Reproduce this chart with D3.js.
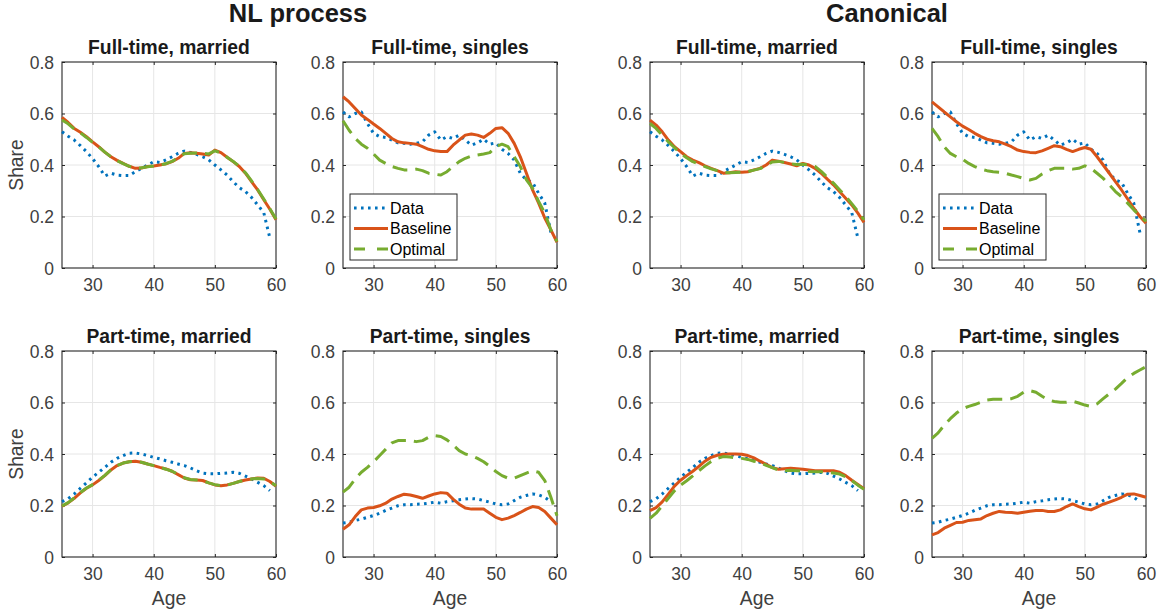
<!DOCTYPE html>
<html><head><meta charset="utf-8">
<script src="https://cdn.jsdelivr.net/npm/d3@7"></script>
<style>body{margin:0;background:#fff;} svg{display:block;font-family:"Liberation Sans",Arial,Helvetica,sans-serif;}</style>
</head><body>
<svg id="chart" width="1162" height="615"></svg>
<script>
// ---------- data ----------
const modelAges = d3.range(25, 61);   // 25..60
const dataAges  = d3.range(25, 60);   // 25..59
const yTicks = [0, 0.2, 0.4, 0.6, 0.8];
const xTicks = [30, 40, 50, 60];
const groupTitles = ["NL process", "Canonical"];
const panelTitles = ["Full-time, married", "Full-time, singles", "Part-time, married", "Part-time, singles"];
const seriesNames = ["Data", "Baseline", "Optimal"];

const dataFTmarried = [0.529,0.512,0.497,0.475,0.452,0.425,0.394,0.357,0.368,0.361,0.359,0.359,0.374,0.387,0.400,0.413,0.410,0.420,0.432,0.445,0.454,0.449,0.441,0.432,0.420,0.400,0.381,0.361,0.335,0.312,0.297,0.274,0.245,0.215,0.116];
const dataFTsingles = [0.606,0.587,0.600,0.606,0.561,0.523,0.510,0.507,0.497,0.486,0.484,0.481,0.484,0.490,0.516,0.529,0.497,0.510,0.503,0.516,0.497,0.477,0.486,0.500,0.481,0.486,0.461,0.445,0.419,0.368,0.342,0.332,0.290,0.252,0.138];
const dataPTmarried = [0.215,0.226,0.245,0.267,0.288,0.310,0.329,0.348,0.368,0.383,0.394,0.403,0.404,0.400,0.394,0.387,0.381,0.374,0.368,0.361,0.355,0.346,0.335,0.326,0.323,0.323,0.325,0.326,0.329,0.325,0.314,0.303,0.290,0.277,0.258];
const dataPTsingles = [0.132,0.135,0.142,0.147,0.154,0.161,0.170,0.181,0.190,0.199,0.203,0.203,0.205,0.206,0.209,0.213,0.209,0.215,0.218,0.222,0.225,0.227,0.225,0.219,0.213,0.206,0.203,0.206,0.219,0.232,0.239,0.245,0.241,0.232,0.215];

const nlBaseFTmarried = [0.585,0.565,0.542,0.527,0.510,0.490,0.471,0.450,0.432,0.418,0.406,0.395,0.387,0.388,0.394,0.396,0.400,0.405,0.413,0.426,0.445,0.448,0.446,0.443,0.439,0.458,0.448,0.430,0.413,0.394,0.368,0.335,0.303,0.265,0.228,0.187];
const nlOptFTmarried  = [0.575,0.560,0.540,0.525,0.507,0.488,0.470,0.450,0.432,0.417,0.405,0.395,0.388,0.389,0.393,0.396,0.400,0.405,0.414,0.428,0.444,0.446,0.447,0.446,0.443,0.455,0.447,0.430,0.414,0.395,0.370,0.338,0.305,0.268,0.230,0.190];
const nlBaseFTsingles = [0.665,0.645,0.619,0.594,0.577,0.559,0.542,0.523,0.503,0.490,0.486,0.484,0.481,0.471,0.461,0.455,0.452,0.452,0.477,0.497,0.516,0.520,0.516,0.507,0.523,0.542,0.545,0.523,0.484,0.432,0.368,0.303,0.252,0.194,0.148,0.100];
const nlOptFTsingles  = [0.572,0.535,0.503,0.481,0.465,0.443,0.419,0.406,0.394,0.387,0.381,0.381,0.384,0.378,0.368,0.364,0.361,0.374,0.394,0.413,0.426,0.435,0.439,0.443,0.448,0.471,0.481,0.471,0.432,0.394,0.342,0.310,0.258,0.213,0.148,0.103];
const nlBasePTmarried = [0.197,0.210,0.228,0.249,0.267,0.280,0.297,0.316,0.338,0.355,0.365,0.370,0.372,0.368,0.361,0.355,0.348,0.342,0.333,0.320,0.307,0.300,0.299,0.297,0.288,0.280,0.277,0.280,0.286,0.293,0.299,0.303,0.307,0.306,0.293,0.275];
const nlOptPTmarried  = [0.198,0.211,0.229,0.250,0.268,0.281,0.298,0.317,0.338,0.355,0.365,0.370,0.371,0.368,0.361,0.355,0.348,0.341,0.333,0.321,0.308,0.301,0.299,0.296,0.288,0.281,0.277,0.279,0.286,0.293,0.299,0.303,0.305,0.303,0.293,0.277];
const nlBasePTsingles = [0.108,0.125,0.157,0.183,0.190,0.192,0.199,0.209,0.225,0.235,0.244,0.241,0.235,0.228,0.237,0.245,0.250,0.248,0.225,0.205,0.190,0.186,0.186,0.186,0.170,0.154,0.145,0.151,0.161,0.173,0.186,0.196,0.192,0.177,0.151,0.125];
const nlOptPTsingles  = [0.252,0.271,0.303,0.329,0.348,0.370,0.394,0.419,0.443,0.452,0.452,0.452,0.448,0.452,0.465,0.471,0.468,0.455,0.435,0.413,0.400,0.394,0.383,0.370,0.352,0.332,0.316,0.306,0.306,0.316,0.326,0.335,0.329,0.297,0.232,0.160];

const caBaseFTmarried = [0.574,0.555,0.529,0.497,0.471,0.452,0.432,0.419,0.409,0.397,0.387,0.378,0.368,0.370,0.374,0.372,0.374,0.381,0.387,0.400,0.419,0.415,0.410,0.404,0.397,0.406,0.400,0.387,0.368,0.345,0.323,0.297,0.271,0.245,0.213,0.177];
const caOptFTmarried  = [0.561,0.542,0.515,0.490,0.468,0.445,0.428,0.413,0.403,0.394,0.385,0.378,0.372,0.370,0.371,0.372,0.374,0.380,0.386,0.398,0.412,0.414,0.410,0.405,0.402,0.403,0.400,0.394,0.375,0.352,0.330,0.304,0.278,0.250,0.220,0.187];
const caBaseFTsingles = [0.645,0.626,0.606,0.587,0.568,0.551,0.538,0.523,0.510,0.500,0.494,0.490,0.481,0.471,0.458,0.452,0.449,0.448,0.455,0.465,0.475,0.471,0.461,0.452,0.461,0.468,0.461,0.432,0.400,0.368,0.335,0.303,0.268,0.232,0.200,0.174];
const caOptFTsingles  = [0.542,0.510,0.471,0.445,0.432,0.422,0.406,0.394,0.384,0.378,0.374,0.372,0.368,0.361,0.355,0.348,0.342,0.348,0.365,0.378,0.387,0.387,0.387,0.384,0.387,0.397,0.387,0.368,0.348,0.323,0.297,0.277,0.252,0.226,0.203,0.181];
const caBasePTmarried = [0.180,0.192,0.214,0.244,0.275,0.298,0.316,0.333,0.352,0.372,0.387,0.395,0.399,0.400,0.400,0.399,0.394,0.385,0.372,0.360,0.347,0.341,0.343,0.345,0.343,0.341,0.338,0.335,0.335,0.335,0.335,0.329,0.316,0.298,0.282,0.265];
const caOptPTmarried  = [0.150,0.170,0.199,0.228,0.257,0.279,0.296,0.315,0.335,0.354,0.371,0.383,0.390,0.388,0.386,0.383,0.379,0.372,0.366,0.356,0.347,0.337,0.335,0.337,0.335,0.335,0.332,0.331,0.331,0.329,0.326,0.322,0.312,0.297,0.279,0.263];
const caBasePTsingles = [0.086,0.095,0.112,0.123,0.134,0.135,0.142,0.145,0.148,0.161,0.170,0.177,0.174,0.173,0.170,0.174,0.178,0.181,0.181,0.177,0.177,0.183,0.196,0.206,0.196,0.187,0.183,0.194,0.205,0.213,0.222,0.232,0.244,0.245,0.239,0.232];
const caOptPTsingles  = [0.461,0.482,0.512,0.537,0.559,0.576,0.585,0.592,0.601,0.610,0.613,0.613,0.613,0.615,0.624,0.640,0.646,0.640,0.624,0.610,0.604,0.601,0.601,0.605,0.598,0.590,0.585,0.595,0.615,0.634,0.652,0.674,0.697,0.713,0.726,0.739];

// ---------- layout ----------
const colLeft = [62, 343, 650, 932];
const rowTop = [62, 351];
const W = 214, H = 206;
const colors = {Data: "#0072BD", Baseline: "#D95319", Optimal: "#77AC30"};
const dashes = {Data: "2.6,4.4", Baseline: null, Optimal: "15,8"};

const panels = [
  {col:0,row:0,title:0,data:dataFTmarried,base:nlBaseFTmarried,opt:nlOptFTmarried},
  {col:1,row:0,title:1,data:dataFTsingles,base:nlBaseFTsingles,opt:nlOptFTsingles,legend:true},
  {col:0,row:1,title:2,data:dataPTmarried,base:nlBasePTmarried,opt:nlOptPTmarried},
  {col:1,row:1,title:3,data:dataPTsingles,base:nlBasePTsingles,opt:nlOptPTsingles},
  {col:2,row:0,title:0,data:dataFTmarried,base:caBaseFTmarried,opt:caOptFTmarried},
  {col:3,row:0,title:1,data:dataFTsingles,base:caBaseFTsingles,opt:caOptFTsingles,legend:true},
  {col:2,row:1,title:2,data:dataPTmarried,base:caBasePTmarried,opt:caOptPTmarried},
  {col:3,row:1,title:3,data:dataPTsingles,base:caBasePTsingles,opt:caOptPTsingles}
];

const svg = d3.select("#chart");
const axisColor = "#262626";
const textColor = "#404040";

svg.append("text").attr("x", 298).attr("y", 22).attr("text-anchor","middle")
  .attr("font-size", 25.5).attr("font-weight","bold").attr("fill","#1a1a1a").text(groupTitles[0]);
svg.append("text").attr("x", 887).attr("y", 22).attr("text-anchor","middle")
  .attr("font-size", 25.5).attr("font-weight","bold").attr("fill","#1a1a1a").text(groupTitles[1]);

const fmt = d => d === 0 ? "0" : d3.format(".1f")(d);

panels.forEach(p => {
  const x0 = colLeft[p.col], y0 = rowTop[p.row];
  const g = svg.append("g").attr("transform", `translate(${x0},${y0})`);
  const x = d3.scaleLinear().domain([25, 60]).range([0, W]);
  const y = d3.scaleLinear().domain([0, 0.8]).range([H, 0]);

  g.append("g").selectAll("line").data(xTicks.filter(t => t < 60)).join("line")
    .attr("x1", d => x(d)).attr("x2", d => x(d)).attr("y1", 0).attr("y2", H)
    .attr("stroke", "#e6e6e6").attr("stroke-width", 1);
  g.append("g").selectAll("line").data(yTicks.filter(t => t > 0 && t < 0.8)).join("line")
    .attr("y1", d => y(d)).attr("y2", d => y(d)).attr("x1", 0).attr("x2", W)
    .attr("stroke", "#e6e6e6").attr("stroke-width", 1);

  const ax = d3.axisBottom(x).tickValues(xTicks).tickSizeInner(-3).tickSizeOuter(0).tickPadding(8);
  const ay = d3.axisLeft(y).tickValues(yTicks).tickFormat(fmt).tickSizeInner(-3).tickSizeOuter(0).tickPadding(8);
  const axT = d3.axisTop(x).tickValues(xTicks).tickSizeInner(-3).tickSizeOuter(0).tickFormat("");
  const ayR = d3.axisRight(y).tickValues(yTicks).tickSizeInner(-3).tickSizeOuter(0).tickFormat("");
  const gx = g.append("g").attr("transform", `translate(0,${H})`).call(ax);
  const gy = g.append("g").call(ay);
  const gt = g.append("g").call(axT);
  const gr = g.append("g").attr("transform", `translate(${W},0)`).call(ayR);
  [gx, gy, gt, gr].forEach(a => {
    a.select(".domain").remove();
    a.selectAll(".tick line").attr("stroke", axisColor);
    a.selectAll(".tick text").attr("fill", textColor).attr("font-size", 17.5)
      .attr("font-family", '"Liberation Sans",Arial,sans-serif');
  });
  gx.selectAll(".tick text").attr("dy", "0.85em");
  gy.selectAll(".tick text").attr("dy", "0.35em");

  g.append("rect").attr("x", 0).attr("y", 0).attr("width", W).attr("height", H)
    .attr("fill", "none").attr("stroke", axisColor).attr("stroke-width", 1.1);

  const line = d3.line().x(d => x(d[0])).y(d => y(d[1]));
  const series = [
    {name: "Data", pts: dataAges.map((a, i) => [a, p.data[i]])},
    {name: "Baseline", pts: modelAges.map((a, i) => [a, p.base[i]])},
    {name: "Optimal", pts: modelAges.map((a, i) => [a, p.opt[i]])}
  ];
  series.forEach(s => {
    g.append("path").attr("d", line(s.pts)).attr("fill", "none")
      .attr("stroke", colors[s.name]).attr("stroke-width", 3)
      .attr("stroke-dasharray", dashes[s.name])
      .attr("stroke-linejoin", "round");
  });

  g.append("text").attr("x", W / 2).attr("y", -8).attr("text-anchor", "middle")
    .attr("font-size", 19.3).attr("font-weight", "bold").attr("fill", "#1a1a1a")
    .text(panelTitles[p.title]);

  if (p.row === 1) {
    g.append("text").attr("x", W / 2).attr("y", H + 48).attr("text-anchor", "middle")
      .attr("font-size", 19.3).attr("fill", textColor).text("Age");
  }
  if (p.col === 0) {
    g.append("text").attr("transform", `translate(${-39},${H / 2}) rotate(-90)`)
      .attr("text-anchor", "middle").attr("font-size", 19.3).attr("fill", textColor).text("Share");
  }

  if (p.legend) {
    const lg = g.append("g").attr("transform", `translate(7,132)`);
    lg.append("rect").attr("width", 107).attr("height", 66).attr("fill", "#fff")
      .attr("stroke", axisColor).attr("stroke-width", 1);
    seriesNames.forEach((n, i) => {
      const yy = 14 + i * 20.5;
      lg.append("line").attr("x1", 4).attr("x2", 38).attr("y1", yy).attr("y2", yy)
        .attr("stroke", colors[n]).attr("stroke-width", 3).attr("stroke-dasharray", n === "Optimal" ? "11,12" : dashes[n]);
      lg.append("text").attr("x", 40).attr("y", yy).attr("dy", "0.35em")
        .attr("font-size", 16).attr("fill", "#000").text(n);
    });
  }
});
</script>
</body></html>
